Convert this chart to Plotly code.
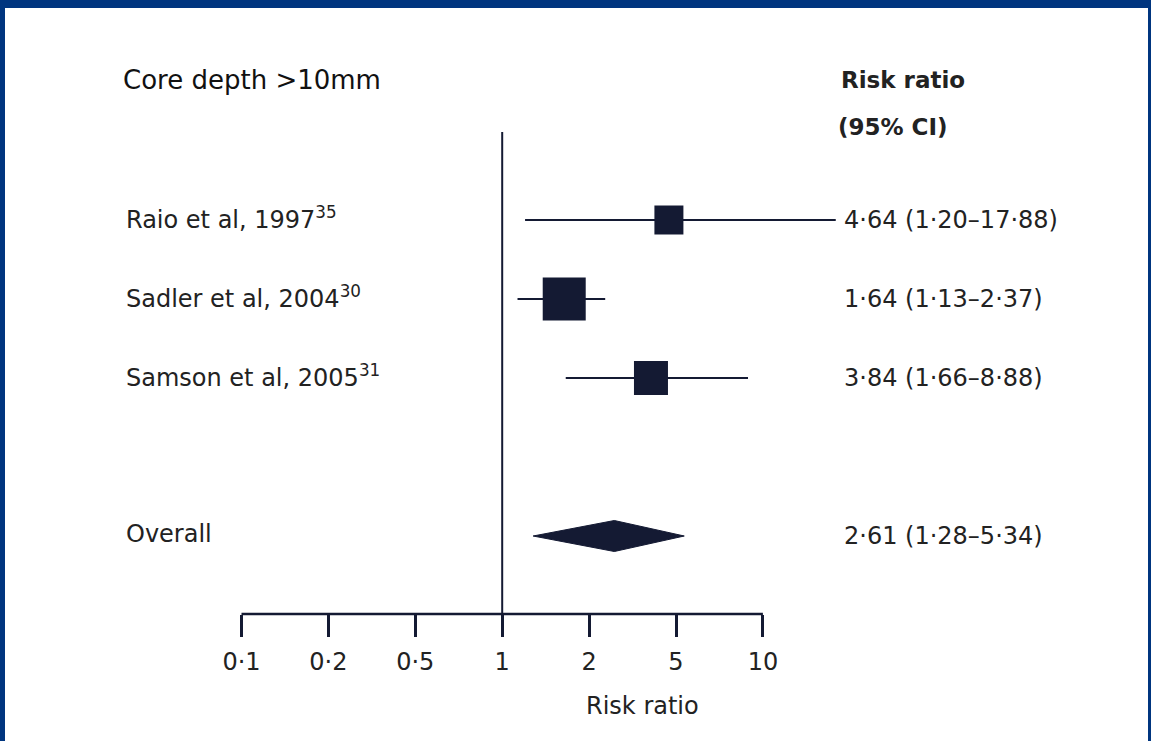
import math
import plotly.graph_objects as go

# ---------------- data ----------------
studies = ["Raio et al, 1997<sup>35</sup>", "Sadler et al, 2004<sup>30</sup>", "Samson et al, 2005<sup>31</sup>"]
rr = [4.64, 1.64, 3.84]
ci_low = [1.20, 1.13, 1.66]
ci_high = [17.88, 2.37, 8.88]
rr_labels = ["4·64 (1·20–17·88)", "1·64 (1·13–2·37)", "3·84 (1·66–8·88)"]

overall_label = "Overall"
overall_rr = 2.61
overall_low = 1.28
overall_high = 5.34
overall_text = "2·61 (1·28–5·34)"

tick_values = [0.1, 0.2, 0.5, 1, 2, 5, 10]
tick_labels = ["0·1", "0·2", "0·5", "1", "2", "5", "10"]

# ---------------- style ----------------
W, H = 1151, 741
FONT = "DejaVu Sans"
INK = "#141a33"
TXT = "#222222"
BLUE = "#00357f"
square_sizes = [29, 43, 34]


def tx(v):
    """Piecewise-log position: tick values are equally spaced."""
    tv = tick_values
    if v <= tv[0]:
        i = 0
    elif v >= tv[-1]:
        i = len(tv) - 2
    else:
        i = max(k for k in range(len(tv) - 1) if tv[k] <= v)
    return i + math.log(v / tv[i]) / math.log(tv[i + 1] / tv[i])


tick_pos = [tx(v) for v in tick_values]

# pixel geometry of the frame
px_per_unit = 86.9
x0_px = 241.5
axis_y_px = 614.0
row_px = 79.0
row0_px = 220.0

xr = [-x0_px / px_per_unit, (W - x0_px) / px_per_unit]
yr = [(H - row0_px) / row_px, -row0_px / row_px]
axis_row = (axis_y_px - row0_px) / row_px

rows = list(range(len(studies)))
overall_row = len(studies) + 1

fig = go.Figure()

# reference line at RR = 1
fig.add_trace(go.Scatter(x=[tx(1), tx(1)], y=[(132 - row0_px) / row_px, axis_row], mode="lines",
                         line=dict(color=INK, width=2), hoverinfo="skip", showlegend=False))
# axis line
fig.add_trace(go.Scatter(x=[tick_pos[0], tick_pos[-1]], y=[axis_row, axis_row], mode="lines",
                         line=dict(color=INK, width=2.5), hoverinfo="skip", showlegend=False))

# CI lines
for r, lo, hi in zip(rows, ci_low, ci_high):
    fig.add_trace(go.Scatter(x=[tx(lo), tx(hi)], y=[r, r], mode="lines",
                             line=dict(color=INK, width=2), hoverinfo="skip", showlegend=False))

# squares
fig.add_trace(go.Scatter(x=[tx(v) for v in rr], y=rows, mode="markers",
                         marker=dict(symbol="square", size=square_sizes, color=INK, opacity=1,
                                     line=dict(width=0)),
                         hoverinfo="skip", showlegend=False))

# overall diamond
h = 15.5 / row_px
fig.add_trace(go.Scatter(
    x=[tx(overall_low), tx(overall_rr), tx(overall_high), tx(overall_rr), tx(overall_low)],
    y=[overall_row, overall_row - h, overall_row, overall_row + h, overall_row],
    mode="lines", fill="toself", fillcolor=INK, line=dict(color=INK, width=1),
    hoverinfo="skip", showlegend=False))

fs = 24
ann = []
left_x = 124 / W
right_x = 842 / W
for r, name, lab in zip(rows, studies, rr_labels):
    ann.append(dict(x=left_x, xref="paper", y=r - 0.03, yref="y", text=name, xanchor="left",
                    yanchor="middle", showarrow=False, font=dict(family=FONT, size=fs, color=TXT)))
    ann.append(dict(x=right_x, xref="paper", y=r, yref="y", text=lab, xanchor="left",
                    yanchor="middle", showarrow=False, font=dict(family=FONT, size=fs, color=TXT)))
ann.append(dict(x=left_x, xref="paper", y=overall_row - 0.03, yref="y", text=overall_label,
                xanchor="left", yanchor="middle", showarrow=False,
                font=dict(family=FONT, size=fs, color=TXT)))
ann.append(dict(x=right_x, xref="paper", y=overall_row, yref="y", text=overall_text, xanchor="left",
                yanchor="middle", showarrow=False, font=dict(family=FONT, size=fs, color=TXT)))

# headers
ann.append(dict(x=121 / W, xref="paper", y=1 - 80 / H, yref="paper", text="Core depth >10mm",
                xanchor="left", yanchor="middle", showarrow=False,
                font=dict(family=FONT, size=26, color="#111111")))
ann.append(dict(x=839 / W, xref="paper", y=1 - 80 / H, yref="paper", text="<b>Risk ratio</b>",
                xanchor="left", yanchor="middle", showarrow=False,
                font=dict(family=FONT, size=23, color=TXT)))
ann.append(dict(x=836 / W, xref="paper", y=1 - 127 / H, yref="paper", text="<b>(95% CI)</b>",
                xanchor="left", yanchor="middle", showarrow=False,
                font=dict(family=FONT, size=23, color=TXT)))
# axis title
ann.append(dict(x=642 / W, xref="paper", y=1 - 706 / H, yref="paper", text="Risk ratio",
                xanchor="center", yanchor="middle", showarrow=False,
                font=dict(family=FONT, size=fs, color=TXT)))

# blue frame
shapes = [
    dict(type="rect", xref="paper", yref="paper", x0=0, x1=5 / W, y0=0, y1=1,
         fillcolor=BLUE, line=dict(width=0), layer="above"),
    dict(type="rect", xref="paper", yref="paper", x0=0, x1=1, y0=1 - 8 / H, y1=1,
         fillcolor=BLUE, line=dict(width=0), layer="above"),
    dict(type="rect", xref="paper", yref="paper", x0=1 - 3 / W, x1=1, y0=0, y1=1,
         fillcolor=BLUE, line=dict(width=0), layer="above"),
]

fig.update_layout(
    width=W, height=H,
    margin=dict(l=0, r=0, t=0, b=0),
    paper_bgcolor="white", plot_bgcolor="white",
    annotations=ann, shapes=shapes,
    xaxis=dict(range=xr, domain=[0, 1], showgrid=False, zeroline=False, showline=False,
               anchor="free", position=1 - axis_y_px / H, side="bottom",
               tickmode="array", tickvals=tick_pos, ticktext=tick_labels,
               ticks="outside", ticklen=22, tickwidth=2.5, tickcolor=INK,
               ticklabelstandoff=4,
               tickfont=dict(family=FONT, size=fs, color=TXT), fixedrange=True),
    yaxis=dict(range=yr, domain=[0, 1], visible=False, fixedrange=True),
)

fig.write_html("out.html", config={"displayModeBar": False},
               post_script="document.body.style.margin='0';document.body.style.overflow='hidden';")
